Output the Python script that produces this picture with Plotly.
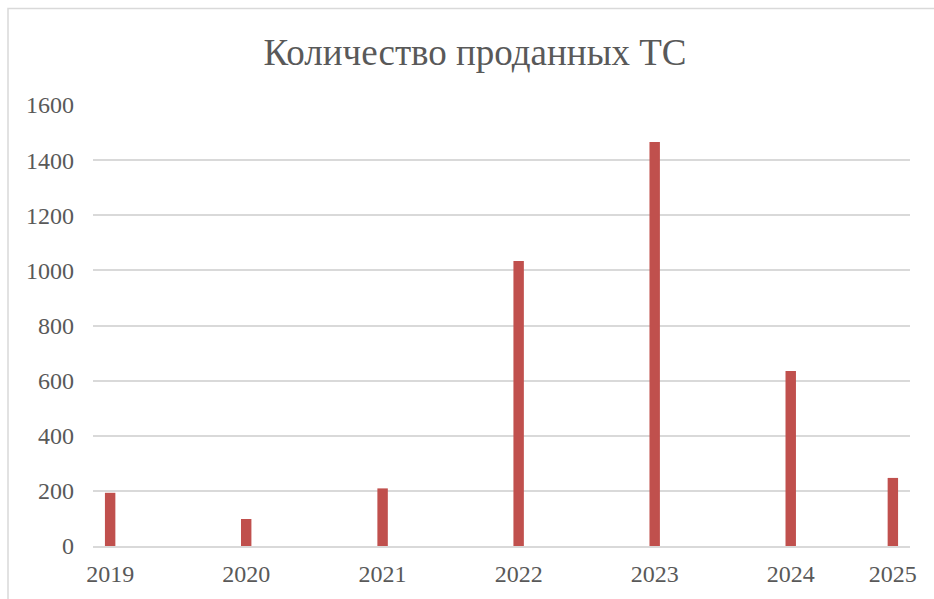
import plotly.graph_objects as go

# Data
years = ["2019", "2020", "2021", "2022", "2023", "2024", "2025"]
dates = ["2019-01-01", "2020-01-01", "2021-01-01", "2022-01-01",
         "2023-01-01", "2024-01-01", "2024-10-01"]
sold = [193, 98, 209, 1034, 1466, 635, 247]
y_ticks = [0, 200, 400, 600, 800, 1000, 1200, 1400, 1600]

W, H = 934, 599
L, R, T, B = 93, 24, 105, 53
pw, ph = W - L - R, H - T - B

FONT = "Liberation Serif, Times New Roman, serif"
GREY = "#595959"
GRID = "#D9D9D9"

DAY_MS = 24 * 3600 * 1000

fig = go.Figure(go.Bar(
    x=dates, y=sold,
    marker=dict(color="#C0504D", line=dict(width=0)),
    width=[28 * DAY_MS] * len(dates),
))

def px_to_paper_x(px):
    return (px - L) / pw

def px_to_paper_y(py):
    return (H - B - py) / ph

fig.update_layout(
    width=W, height=H,
    margin=dict(l=L, r=R, t=T, b=B),
    paper_bgcolor="white", plot_bgcolor="white",
    font=dict(family=FONT, color=GREY, size=24),
    showlegend=False,
    title=dict(text="Количество проданных ТС",
               font=dict(family=FONT, size=37, color=GREY),
               x=475 / W, xanchor="center", xref="container",
               y=1 - 52 / H, yanchor="middle", yref="container"),
    xaxis=dict(type="date", range=["2018-11-16", "2024-11-16"],
               tickvals=dates, ticktext=years, showgrid=False,
               showline=True, linecolor=GRID, linewidth=1.5,
               ticks="", ticklabelstandoff=5, automargin=False,
               tickfont=dict(family=FONT, size=24, color=GREY)),
    yaxis=dict(range=[0, 1600], tickvals=y_ticks, showgrid=True,
               gridcolor=GRID, gridwidth=1.5, zeroline=False,
               showline=False, ticks="", ticklabelstandoff=18,
               automargin=False,
               tickfont=dict(family=FONT, size=24, color=GREY)),
    shapes=[dict(type="rect", xref="paper", yref="paper",
                 x0=px_to_paper_x(8), x1=px_to_paper_x(945),
                 y0=px_to_paper_y(610), y1=px_to_paper_y(8.5),
                 line=dict(color=GRID, width=1.5), fillcolor="rgba(0,0,0,0)",
                 layer="below")],
)

fig.write_html("out.html", config={"displayModeBar": False},
               post_script="document.body.style.margin='0';document.body.style.padding='0';")
